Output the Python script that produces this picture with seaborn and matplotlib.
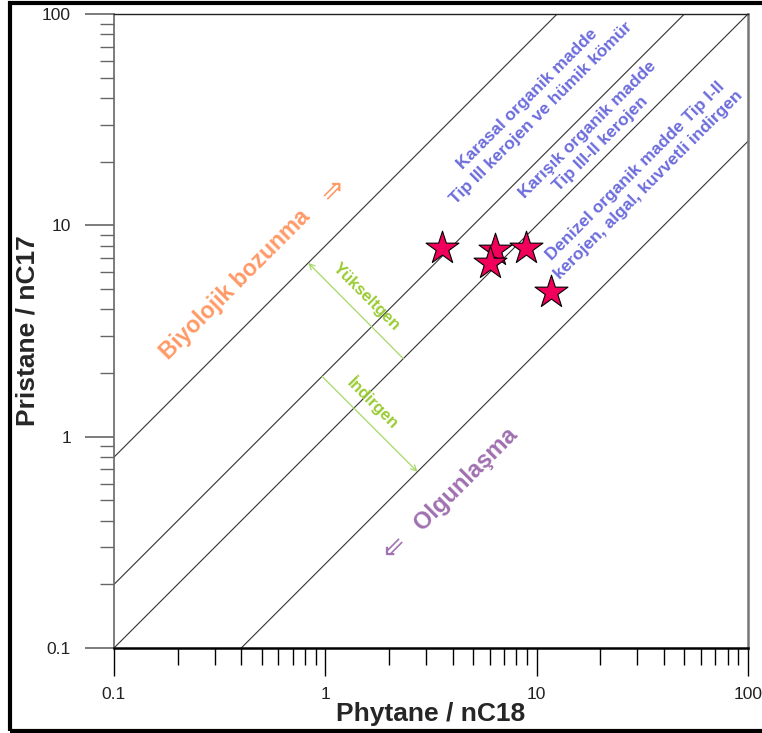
import numpy as np
import pandas as pd
import matplotlib
matplotlib.use("Agg")
import matplotlib.pyplot as plt
from matplotlib.patches import Rectangle
import seaborn as sns

# Sample ratios (Phytane/nC18, Pristane/nC17)
phytane_nc18 = [3.57, 6.35, 6.01, 8.91, 11.7]
pristane_nc17 = [7.82, 7.65, 6.64, 7.82, 4.84]

# Pr/Ph iso-ratio boundary lines
pr_ph_ratios = [8.0, 2.0, 1.0, 0.25]

axis_ticks = [0.1, 1, 10, 100]
axis_tick_labels = ["0.1", "1", "10", "100"]

sns.set_style("white")
plt.rcParams["font.family"] = ["Liberation Sans", "DejaVu Sans"]

fig = plt.figure(figsize=(7.62, 7.33), dpi=100)
ax = fig.add_axes([114 / 762, 1 - 648 / 733, 634 / 762, 634 / 733])

df = pd.DataFrame({"Phytane / nC18": phytane_nc18, "Pristane / nC17": pristane_nc17})

# boundary lines
xs = np.array([0.1, 100.0])
for r in pr_ph_ratios:
    ax.plot(xs, r * xs, color="#333333", lw=0.8, zorder=1)

sns.scatterplot(data=df, x="Phytane / nC18", y="Pristane / nC17", marker="*",
                s=620, color="#f0005a", edgecolor="black", linewidth=0.8,
                ax=ax, zorder=5, legend=False)

ax.set_xscale("log")
ax.set_yscale("log")
ax.set_xlim(0.1, 100)
ax.set_ylim(0.1, 100)

ax.set_xticks(axis_ticks)
ax.set_xticklabels(axis_tick_labels)
ax.set_yticks(axis_ticks)
ax.set_yticklabels(axis_tick_labels)
minor = [m * d for d in [0.1, 1, 10] for m in range(2, 10)]
ax.set_xticks(minor, minor=True)
ax.set_yticks(minor, minor=True)
ax.xaxis.set_minor_formatter(matplotlib.ticker.NullFormatter())
ax.yaxis.set_minor_formatter(matplotlib.ticker.NullFormatter())

ax.tick_params(axis="x", which="major", direction="out", length=20, width=1.0,
               color="black", labelsize=12.5, pad=8, bottom=True, labelcolor="#222222")
ax.tick_params(axis="x", which="minor", direction="out", length=12, width=1.0,
               color="black", bottom=True)
ax.tick_params(axis="y", which="major", direction="out", length=21, width=1.2,
               color="#666666", labelsize=12.5, pad=10, left=True, labelcolor="#222222")
ax.tick_params(axis="y", which="minor", direction="out", length=10, width=1.0,
               color="#666666", left=True)

ax.spines["bottom"].set_color("black")
ax.spines["bottom"].set_linewidth(1.8)
ax.spines["left"].set_color("#666666")
ax.spines["left"].set_linewidth(1.2)
ax.spines["right"].set_color("#777777")
ax.spines["right"].set_linewidth(1.8)
ax.spines["top"].set_color("#222222")
ax.spines["top"].set_linewidth(1.0)

ax.set_xlabel("Phytane / nC18", fontsize=19, fontweight="bold", labelpad=0)
ax.set_ylabel("Pristane / nC17", fontsize=19, fontweight="bold", labelpad=2)

# oxic / anoxic arrows
green = "#a6d868"
ax.annotate("", xy=(0.83, 6.64), xytext=(2.34, 2.34),
            arrowprops=dict(arrowstyle="->", color=green, lw=0.9, shrinkA=0, shrinkB=0,
                            mutation_scale=10))
ax.annotate("", xy=(2.73, 0.682), xytext=(0.965, 1.93),
            arrowprops=dict(arrowstyle="->", color=green, lw=0.9, shrinkA=0, shrinkB=0,
                            mutation_scale=10))
ax.text(1.56, 4.58, "Yükseltgen", color="#99cc33", fontsize=12, fontweight="bold",
        rotation=-45, ha="center", va="center", rotation_mode="anchor")
ax.text(1.68, 1.44, "İndirgen", color="#99cc33", fontsize=12, fontweight="bold",
        rotation=-45, ha="center", va="center", rotation_mode="anchor")

# biodegradation / maturation trends
orange = "#ff9966"
purple = "#a070b0"
ax.text(0.374, 5.22, "Biyolojik bozunma", color=orange, fontsize=16.5, fontweight="bold",
        rotation=45, ha="center", va="center", rotation_mode="anchor")
ax.text(1.08, 14.7, "⇗", color=orange, fontsize=20, ha="center", va="center",
        family=["DejaVu Sans"])
ax.text(4.63, 0.63, "Olgunlaşma", color=purple, fontsize=17, fontweight="bold",
        rotation=45, ha="center", va="center", rotation_mode="anchor")
ax.text(2.09, 0.297, "⇙", color=purple, fontsize=20, ha="center", va="center",
        family=["DejaVu Sans"])

# organic matter source fields
blue = "#6c6cdc"
blue_kw = dict(color=blue, fontsize=12.5, fontweight="bold", rotation=45, ha="center",
               va="center", rotation_mode="anchor", multialignment="center",
               linespacing=1.35)
ax.text(9.73, 36.7, "Karasal organik madde\nTip III kerojen ve hümik kömür", **blue_kw)
ax.text(18.7, 26.2, "Karışık organik madde\nTip III-II kerojen", **blue_kw)
ax.text(31.5, 16.7, "Denizel organik madde Tip I-II\nkerojen, algal, kuvvetli indirgen",
        **blue_kw)

# outer frame
fig.patches.append(Rectangle((10 / 762, 2 / 733), 1.0, 728 / 733, transform=fig.transFigure,
                             fill=False, edgecolor="black", lw=3))

fig.savefig("out.png", dpi=100)
